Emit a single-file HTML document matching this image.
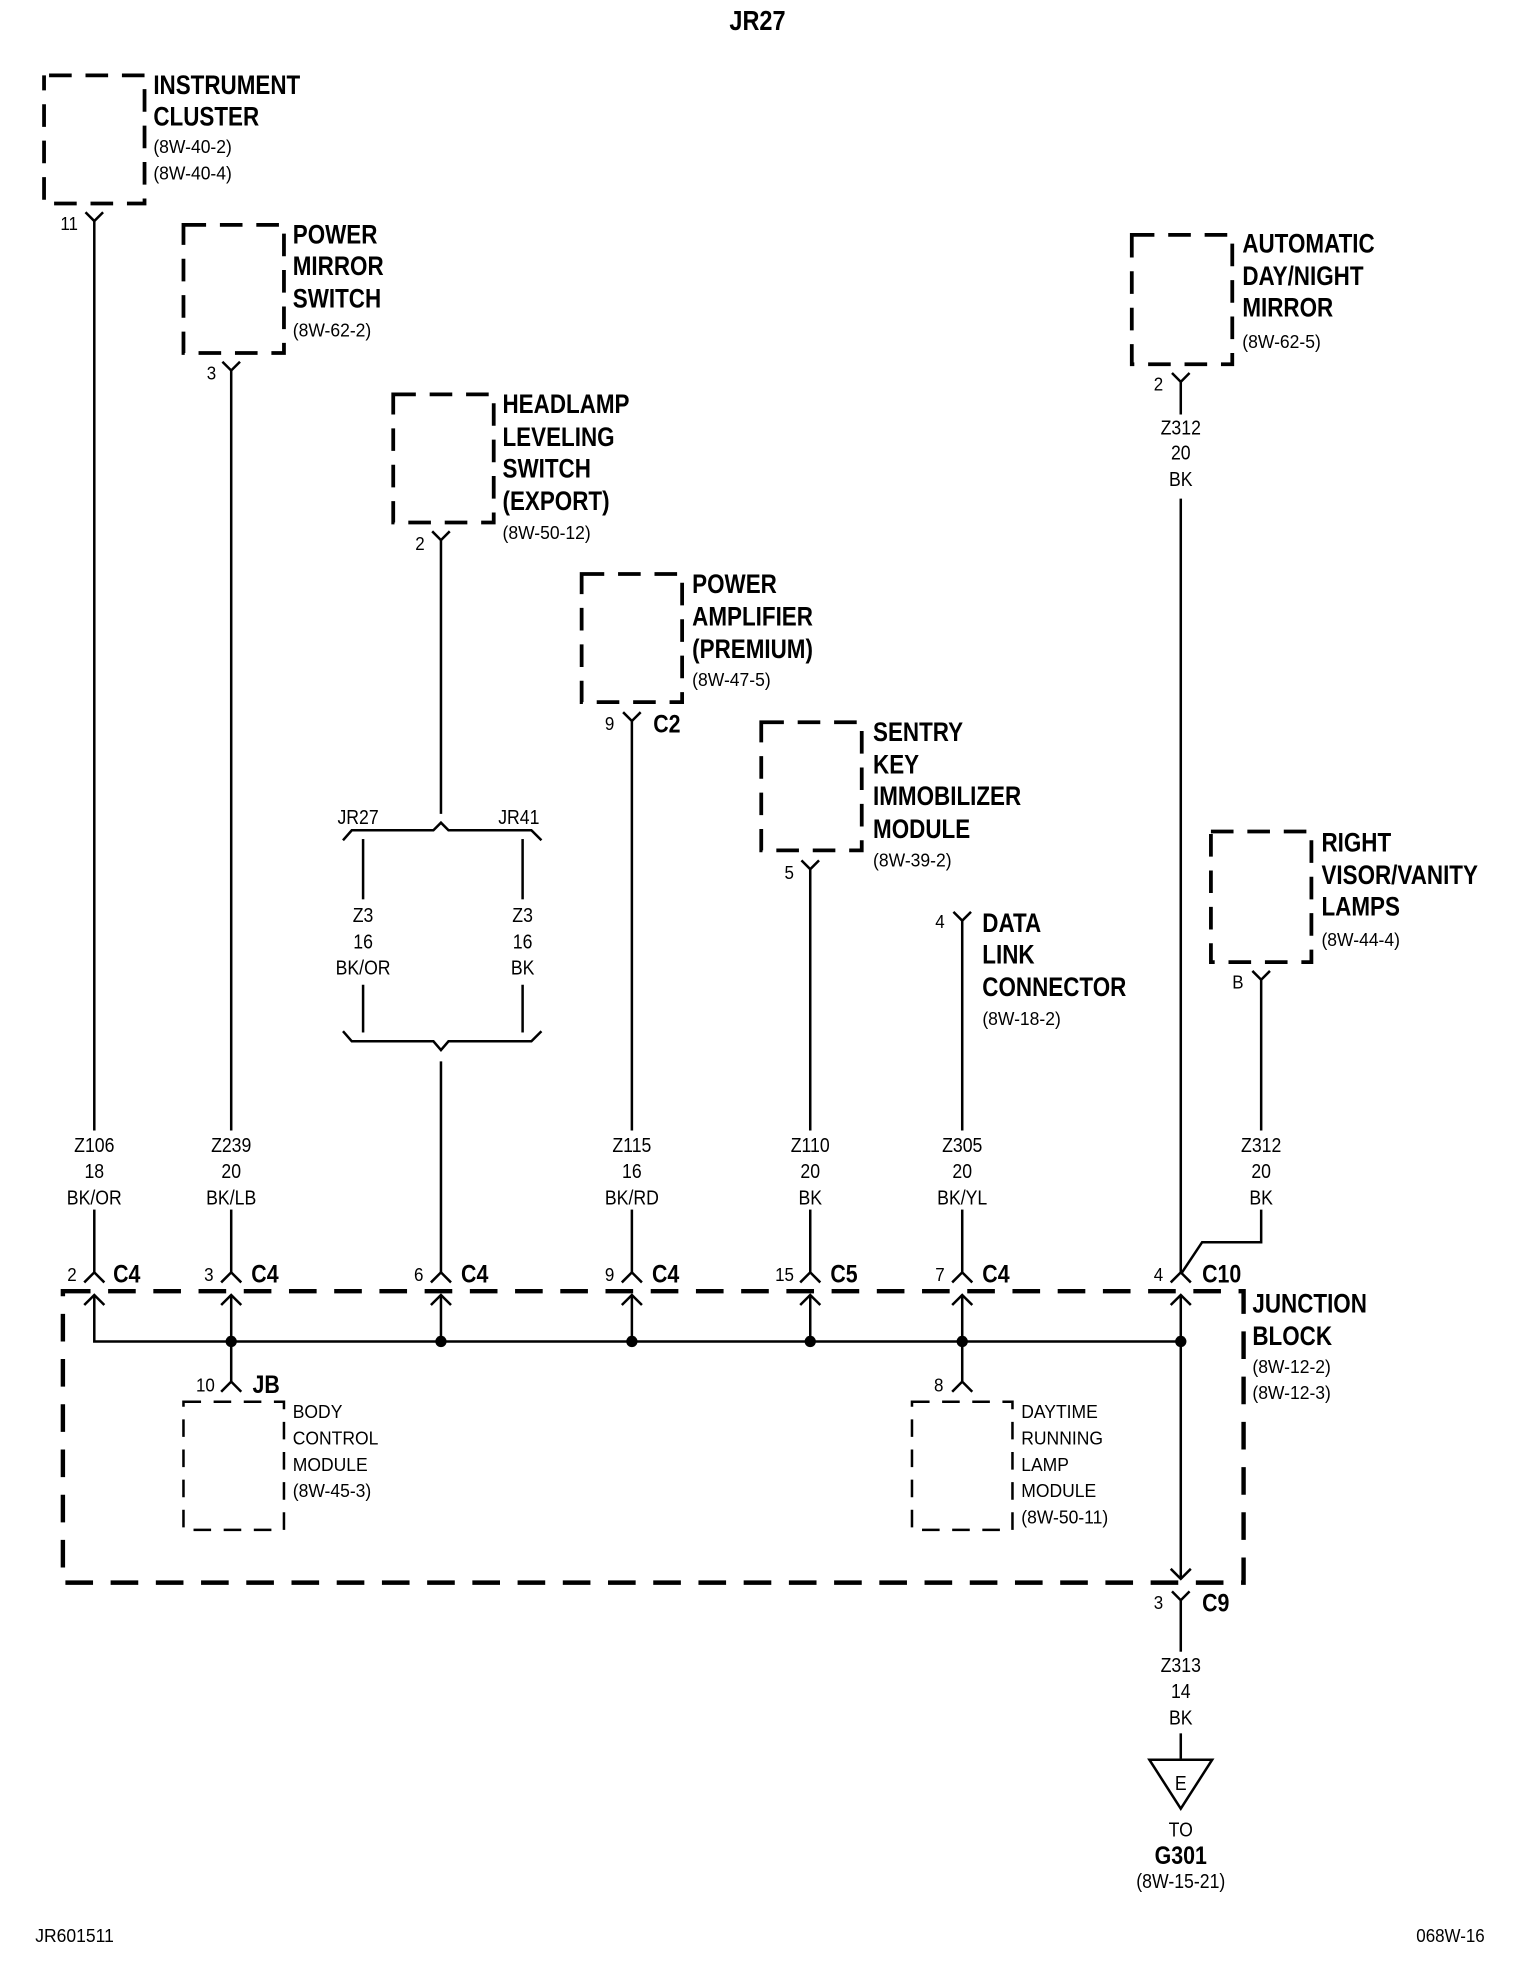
<!DOCTYPE html>
<html><head><meta charset="utf-8"><style>
html,body{margin:0;padding:0;background:#fff;}
svg{display:block;}
text{font-family:"Liberation Sans Narrow","Liberation Sans",sans-serif;fill:#000;transform-box:fill-box;transform-origin:left center;}
.b{font-weight:bold;font-size:21px;transform:scaleX(.85);}
.r{font-size:15px;transform:scaleX(.93);}
.w{font-size:16px;text-anchor:middle;transform:scaleX(.88);transform-origin:center;}
.p{font-size:15px;text-anchor:end;transform:scaleX(.9);transform-origin:right center;}
.c{font-weight:bold;font-size:20px;transform:scaleX(.85);}
.s{font-size:16px;transform:scaleX(.88);transform-origin:center;}
.f{font-size:15px;}
</style></head><body>
<svg width="1520" height="1972" viewBox="0 0 1210 1570" xmlns="http://www.w3.org/2000/svg">
<g fill="none" stroke="#000" stroke-width="3" stroke-dasharray="18,11">
<rect x="35" y="60" width="80" height="102" stroke-dashoffset="-4"/>
<rect x="146" y="179" width="80" height="102"/>
<rect x="313" y="314" width="80" height="102"/>
<rect x="463" y="457" width="80" height="102"/>
<rect x="606" y="575" width="80" height="102"/>
<rect x="901" y="187" width="80" height="103"/>
<rect x="964" y="662" width="80" height="104"/>
<rect x="50" y="1028" width="940" height="232" stroke-width="3.5" stroke-dasharray="22,14"/>
</g>
<g fill="none" stroke="#000" stroke-width="2" stroke-dasharray="14,10">
<rect x="146" y="1116" width="80" height="102"/>
<rect x="726" y="1116" width="80" height="102"/>
</g>
<g fill="none" stroke="#000" stroke-width="2">
<polyline points="68,169 75,176 82,169"/><line x1="75" y1="176" x2="75" y2="900"/><line x1="75" y1="963" x2="75" y2="1013"/>
<polyline points="177,288 184,295 191,288"/><line x1="184" y1="295" x2="184" y2="900"/><line x1="184" y1="963" x2="184" y2="1013"/>
<polyline points="344,423 351,430 358,423"/><line x1="351" y1="430" x2="351" y2="648"/>
<polyline points="273,669 280,661 345,661 351,655 357,661 423,661 431,669"/>
<line x1="289" y1="668" x2="289" y2="716"/><line x1="289" y1="784" x2="289" y2="822"/>
<line x1="416" y1="668" x2="416" y2="716"/><line x1="416" y1="784" x2="416" y2="822"/>
<polyline points="273,821 280,829 345,829 351,836 357,829 423,829 431,821"/>
<line x1="351" y1="845" x2="351" y2="1013"/>
<polyline points="496,567 503,574 510,567"/><line x1="503" y1="574" x2="503" y2="900"/><line x1="503" y1="963" x2="503" y2="1013"/>
<polyline points="638,685 645,692 652,685"/><line x1="645" y1="692" x2="645" y2="900"/><line x1="645" y1="963" x2="645" y2="1013"/>
<polyline points="759,726 766,733 773,726"/><line x1="766" y1="733" x2="766" y2="900"/><line x1="766" y1="963" x2="766" y2="1013"/>
<polyline points="933,297 940,304 947,297"/><line x1="940" y1="304" x2="940" y2="330"/><line x1="940" y1="397" x2="940" y2="1013"/>
<polyline points="997,773 1004,780 1011,773"/><line x1="1004" y1="780" x2="1004" y2="900"/>
<polyline points="1004,963 1004,989 957,989 941,1013"/>
<polyline points="67,1021 75,1013 83,1021"/>
<polyline points="176,1021 184,1013 192,1021"/>
<polyline points="343,1021 351,1013 359,1021"/>
<polyline points="495,1021 503,1013 511,1021"/>
<polyline points="637,1021 645,1013 653,1021"/>
<polyline points="758,1021 766,1013 774,1021"/>
<polyline points="932,1021 940,1013 948,1021"/>
<polyline points="67,1039 75,1031 83,1039"/>
<polyline points="176,1039 184,1031 192,1039"/>
<polyline points="343,1039 351,1031 359,1039"/>
<polyline points="495,1039 503,1031 511,1039"/>
<polyline points="637,1039 645,1031 653,1039"/>
<polyline points="758,1039 766,1031 774,1039"/>
<polyline points="932,1039 940,1031 948,1039"/>
<polyline points="75,1031 75,1068 940,1068"/>
<line x1="184" y1="1031" x2="184" y2="1100"/>
<line x1="351" y1="1031" x2="351" y2="1068"/>
<line x1="503" y1="1031" x2="503" y2="1068"/>
<line x1="645" y1="1031" x2="645" y2="1068"/>
<line x1="766" y1="1031" x2="766" y2="1100"/>
<line x1="940" y1="1031" x2="940" y2="1257"/>
<polyline points="176,1108 184,1100 192,1108"/>
<polyline points="758,1108 766,1100 774,1108"/>
<polyline points="932,1249 940,1257 948,1249"/>
<polyline points="933,1267 940,1274 947,1267"/><line x1="940" y1="1274" x2="940" y2="1315"/><line x1="940" y1="1380" x2="940" y2="1400"/>
<polygon points="915,1401 965,1401 940,1440"/>
</g>
<g fill="#000">
<circle cx="184" cy="1068" r="4.5"/><circle cx="351" cy="1068" r="4.5"/><circle cx="503" cy="1068" r="4.5"/>
<circle cx="645" cy="1068" r="4.5"/><circle cx="766" cy="1068" r="4.5"/><circle cx="940" cy="1068" r="4.5"/>
</g>
<text x="603" y="24" class="c" text-anchor="middle" style="font-size:22px;transform-origin:center">JR27</text>
<text x="122" y="75" class="b">INSTRUMENT</text><text x="122" y="100" class="b">CLUSTER</text>
<text x="122" y="122" class="r">(8W-40-2)</text><text x="122" y="143" class="r">(8W-40-4)</text>
<text x="62" y="183" class="p">11</text>
<text x="233" y="194" class="b">POWER</text><text x="233" y="219" class="b">MIRROR</text><text x="233" y="245" class="b">SWITCH</text><text x="233" y="268" class="r">(8W-62-2)</text>
<text x="172" y="302" class="p">3</text>
<text x="400" y="329" class="b">HEADLAMP</text><text x="400" y="355" class="b">LEVELING</text><text x="400" y="380" class="b">SWITCH</text><text x="400" y="406" class="b">(EXPORT)</text><text x="400" y="429" class="r">(8W-50-12)</text>
<text x="338" y="438" class="p">2</text>
<text x="551" y="472" class="b">POWER</text><text x="551" y="498" class="b">AMPLIFIER</text><text x="551" y="524" class="b">(PREMIUM)</text><text x="551" y="546" class="r">(8W-47-5)</text>
<text x="489" y="581" class="p">9</text><text x="520" y="583" class="c">C2</text>
<text x="695" y="590" class="b">SENTRY</text><text x="695" y="616" class="b">KEY</text><text x="695" y="641" class="b">IMMOBILIZER</text><text x="695" y="667" class="b">MODULE</text><text x="695" y="690" class="r">(8W-39-2)</text>
<text x="632" y="700" class="p">5</text>
<text x="752" y="739" class="p">4</text>
<text x="782" y="742" class="b">DATA</text><text x="782" y="767" class="b">LINK</text><text x="782" y="793" class="b">CONNECTOR</text><text x="782" y="816" class="r">(8W-18-2)</text>
<text x="989" y="201" class="b">AUTOMATIC</text><text x="989" y="227" class="b">DAY/NIGHT</text><text x="989" y="252" class="b">MIRROR</text><text x="989" y="277" class="r">(8W-62-5)</text>
<text x="926" y="311" class="p">2</text>
<text x="940" y="346" class="w">Z312</text><text x="940" y="366" class="w">20</text><text x="940" y="387" class="w">BK</text>
<text x="1052" y="678" class="b">RIGHT</text><text x="1052" y="704" class="b">VISOR/VANITY</text><text x="1052" y="729" class="b">LAMPS</text><text x="1052" y="753" class="r">(8W-44-4)</text>
<text x="990" y="787" class="p">B</text>
<text x="285" y="656" class="s" text-anchor="middle">JR27</text><text x="413" y="656" class="s" text-anchor="middle">JR41</text>
<text x="289" y="734" class="w">Z3</text><text x="289" y="755" class="w">16</text><text x="289" y="776" class="w">BK/OR</text>
<text x="416" y="734" class="w">Z3</text><text x="416" y="755" class="w">16</text><text x="416" y="776" class="w">BK</text>
<text x="75" y="917" class="w">Z106</text><text x="75" y="938" class="w">18</text><text x="75" y="959" class="w">BK/OR</text>
<text x="184" y="917" class="w">Z239</text><text x="184" y="938" class="w">20</text><text x="184" y="959" class="w">BK/LB</text>
<text x="503" y="917" class="w">Z115</text><text x="503" y="938" class="w">16</text><text x="503" y="959" class="w">BK/RD</text>
<text x="645" y="917" class="w">Z110</text><text x="645" y="938" class="w">20</text><text x="645" y="959" class="w">BK</text>
<text x="766" y="917" class="w">Z305</text><text x="766" y="938" class="w">20</text><text x="766" y="959" class="w">BK/YL</text>
<text x="1004" y="917" class="w">Z312</text><text x="1004" y="938" class="w">20</text><text x="1004" y="959" class="w">BK</text>
<text x="61" y="1020" class="p">2</text><text x="90" y="1021" class="c">C4</text>
<text x="170" y="1020" class="p">3</text><text x="200" y="1021" class="c">C4</text>
<text x="337" y="1020" class="p">6</text><text x="367" y="1021" class="c">C4</text>
<text x="489" y="1020" class="p">9</text><text x="519" y="1021" class="c">C4</text>
<text x="632" y="1020" class="p">15</text><text x="661" y="1021" class="c">C5</text>
<text x="752" y="1020" class="p">7</text><text x="782" y="1021" class="c">C4</text>
<text x="926" y="1020" class="p">4</text><text x="957" y="1021" class="c">C10</text>
<text x="997" y="1045" class="b">JUNCTION</text><text x="997" y="1071" class="b">BLOCK</text>
<text x="997" y="1093" class="r">(8W-12-2)</text><text x="997" y="1114" class="r">(8W-12-3)</text>
<text x="171" y="1108" class="p">10</text><text x="201" y="1109" class="c">JB</text>
<text x="233" y="1129" class="r">BODY</text><text x="233" y="1150" class="r">CONTROL</text><text x="233" y="1171" class="r">MODULE</text><text x="233" y="1192" class="r">(8W-45-3)</text>
<text x="751" y="1108" class="p">8</text>
<text x="813" y="1129" class="r">DAYTIME</text><text x="813" y="1150" class="r">RUNNING</text><text x="813" y="1171" class="r">LAMP</text><text x="813" y="1192" class="r">MODULE</text><text x="813" y="1213" class="r">(8W-50-11)</text>
<text x="926" y="1281" class="p">3</text><text x="957" y="1283" class="c">C9</text>
<text x="940" y="1331" class="w">Z313</text><text x="940" y="1352" class="w">14</text><text x="940" y="1373" class="w">BK</text>
<text x="940" y="1425" class="w">E</text>
<text x="940" y="1462" class="w">TO</text>
<text x="940" y="1484" class="c" text-anchor="middle" style="transform-origin:center">G301</text>
<text x="940" y="1503" class="w">(8W-15-21)</text>
<text x="28" y="1546" class="r">JR601511</text>
<text x="1182" y="1546" class="p">068W-16</text>
</svg>
</body></html>
